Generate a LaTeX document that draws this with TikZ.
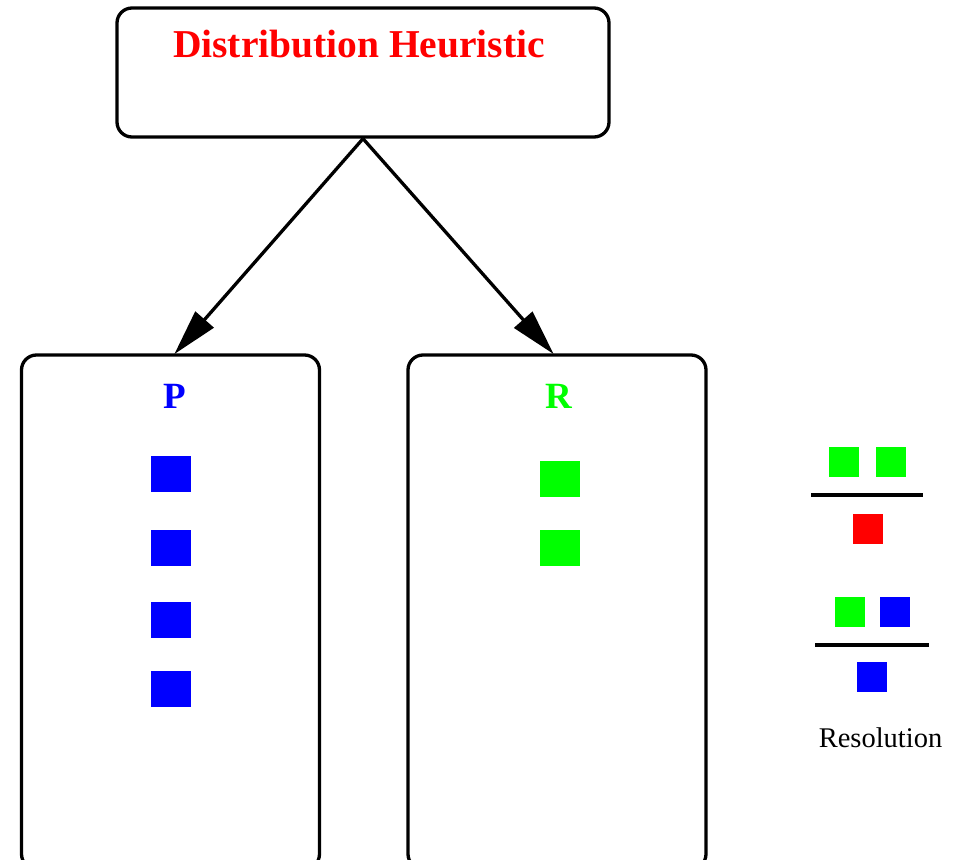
\documentclass[tikz,border=0pt]{standalone}
\usepackage{fontspec}
\setmainfont{Liberation Serif}
\usetikzlibrary{arrows.meta,calc}
\definecolor{pblue}{RGB}{0,0,255}
\definecolor{pgreen}{RGB}{0,255,0}
\definecolor{pred}{RGB}{255,0,0}
\tikzset{
  box/.style={draw=black, line width=3.3pt, rounded corners=15pt, inner sep=0pt},
  conn/.style={line width=3.3pt, -{Triangle[length=46pt,width=24pt]}, shorten >=-1pt},
  bigsq/.style={fill=#1, draw=none, minimum width=40pt, minimum height=36pt, inner sep=0pt},
  smallsq/.style={fill=#1, draw=none, minimum width=30pt, minimum height=30pt, inner sep=0pt},
  rule/.style={line width=3.3pt},
  title/.style={font=\fontsize{39.5}{40}\selectfont\bfseries, inner sep=0pt},
  label/.style={font=\fontsize{37}{38}\selectfont\bfseries, inner sep=0pt},
}
\begin{document}
\begin{tikzpicture}[x=1pt,y=-1pt]
\clip (0,0) rectangle (963,859);
\fill[white] (0,0) rectangle (963,859);
% boxes
\node[box, minimum width=492pt, minimum height=129pt] (top) at (363,72.5) {};
\node[box, minimum width=298pt, minimum height=514pt] (pbox) at (170.5,612) {};
\node[box, minimum width=298pt, minimum height=514pt] (rbox) at (557,612) {};
% texts
\node[title, text=pred, anchor=base] (ttl) at (359,57) {Distribution Heuristic};
\node[label, text=pblue, anchor=base] (plab) at (175,408) {P};
\node[label, text=pgreen, anchor=base] (rlab) at (559,408) {R};
% arrows
\draw[conn] (top.south) -- ($(pbox.north)+(4.5,0)$);
\draw[conn] (top.south) -- ($(rbox.north)+(-4,0)$);
% blue squares
\node[bigsq=pblue] (b1) at (171,474) {};
\node[bigsq=pblue] (b2) at (171,548) {};
\node[bigsq=pblue] (b3) at (171,619.5) {};
\node[bigsq=pblue] (b4) at (171,689) {};
% green squares
\node[bigsq=pgreen] (g1) at (560,479) {};
\node[bigsq=pgreen] (g2) at (560,548) {};
% legend
\node[smallsq=pgreen] (l1) at (843.5,462) {};
\node[smallsq=pgreen] (l2) at (891,462) {};
\coordinate (r1a) at (811,495);
\coordinate (r1b) at (923,495);
\draw[rule] (r1a) -- (r1b);
\node[smallsq=pred] (l3) at (867.5,528.5) {};
\node[smallsq=pgreen] (l4) at (849.5,612) {};
\node[smallsq=pblue] (l5) at (895,612) {};
\coordinate (r2a) at (815,645);
\coordinate (r2b) at (929,645);
\draw[rule] (r2a) -- (r2b);
\node[smallsq=pblue] (l6) at (872,677) {};
\node[font=\fontsize{28.5}{30}\selectfont, anchor=base, inner sep=0pt] (res) at (880.5,747) {Resolution};
\end{tikzpicture}
\end{document}
